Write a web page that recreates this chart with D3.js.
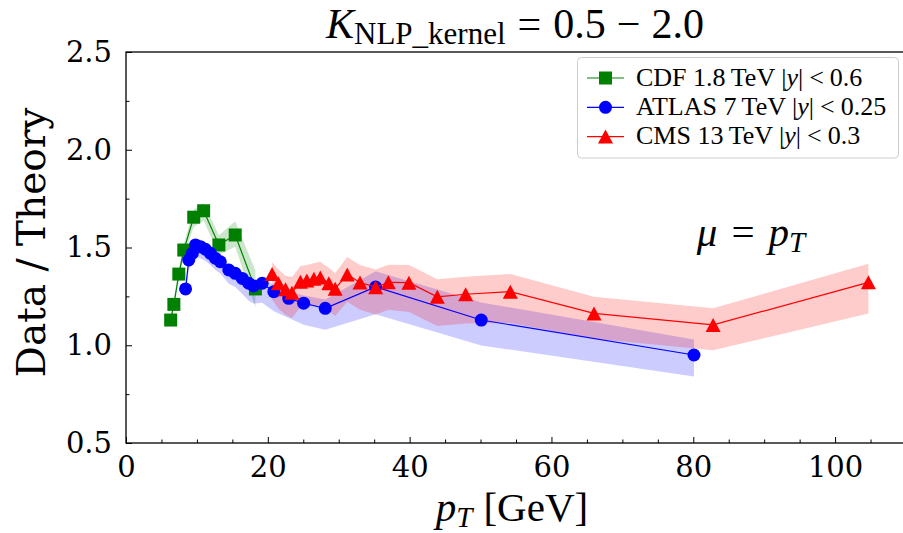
<!DOCTYPE html>
<html>
<head>
<meta charset="utf-8">
<script src="https://cdn.jsdelivr.net/npm/d3@7"></script>
<style>
  body { margin: 0; background: #fff; }
  svg { display: block; }
  .tick text { font-family: 'DejaVu Serif', serif; }
</style>
</head>
<body>
<div id="chart"></div>
<script>
// data (pT in GeV, ratio data / theory)
var cdfPt = [6.3, 6.75, 7.45, 8.15, 9.55, 10.95, 13.1, 15.4, 18.25]
var cdfRatio = [1.129, 1.209, 1.364, 1.487, 1.655, 1.688, 1.513, 1.564, 1.288]
var cdfUp = [0.02, 0.02, 0.03, 0.03, 0.04, 0.04, 0.05, 0.07, 0.095]
var cdfDn = [0.02, 0.02, 0.03, 0.03, 0.05, 0.05, 0.05, 0.06, 0.095]

var atlasPt = [8.4, 8.85, 9.35, 9.8, 10.5, 11.2, 11.9, 12.6, 13.3, 14.5, 15.4, 16.4, 17.3, 18.0, 19.2, 20.85, 22.95, 25.05, 28.1, 35.2, 50.1, 80.1]
var atlasRatio = [1.288, 1.436, 1.47, 1.513, 1.504, 1.491, 1.47, 1.445, 1.427, 1.385, 1.368, 1.342, 1.317, 1.303, 1.317, 1.274, 1.24, 1.215, 1.189, 1.298, 1.129, 0.95]
var atlasUp = [0.02, 0.02, 0.02, 0.02, 0.02, 0.02, 0.02, 0.02, 0.02, 0.025, 0.025, 0.025, 0.03, 0.03, 0.03, 0.035, 0.035, 0.04, 0.045, 0.08, 0.09, 0.08]
var atlasDn = [0.04, 0.05, 0.05, 0.06, 0.06, 0.06, 0.06, 0.06, 0.06, 0.07, 0.07, 0.08, 0.09, 0.09, 0.1, 0.1, 0.1, 0.11, 0.11, 0.14, 0.13, 0.11]

var cmsPt = [20.6, 21.5, 22.5, 23.4, 24.6, 25.5, 26.5, 27.4, 28.6, 29.5, 31.2, 33.0, 35.2, 37.0, 39.9, 43.9, 47.9, 54.2, 66.0, 82.8, 104.7]
var cmsRatio = [1.364, 1.317, 1.286, 1.269, 1.325, 1.331, 1.34, 1.347, 1.317, 1.289, 1.362, 1.321, 1.297, 1.322, 1.32, 1.248, 1.261, 1.274, 1.163, 1.104, 1.322]
var cmsUp = [0.06, 0.07, 0.07, 0.08, 0.08, 0.08, 0.08, 0.08, 0.08, 0.08, 0.09, 0.09, 0.09, 0.09, 0.09, 0.09, 0.09, 0.09, 0.085, 0.085, 0.095]
var cmsDn = [0.13, 0.13, 0.13, 0.13, 0.13, 0.13, 0.14, 0.14, 0.14, 0.14, 0.14, 0.14, 0.14, 0.14, 0.15, 0.15, 0.15, 0.16, 0.13, 0.13, 0.16]

var xMajorTicks = [0, 20, 40, 60, 80, 100]
var yMajorTicks = [0.5, 1.0, 1.5, 2.0, 2.5]

// layout
var chart = {}
chart.width = 903
chart.height = 533
chart.left = 126
chart.right = 906
chart.top = 52
chart.bottom = 443

function zip (xs, ys, up, dn) {
  return xs.map(function (d, i) {
    return { x: d, y: ys[i], up: up[i], dn: dn[i] }
  })
}

var series = [
  { name: 'cdf', color: '#008000', marker: 'square', data: zip(cdfPt, cdfRatio, cdfUp, cdfDn) },
  { name: 'atlas', color: '#0000ff', marker: 'circle', data: zip(atlasPt, atlasRatio, atlasUp, atlasDn) },
  { name: 'cms', color: '#ff0000', marker: 'triangle', data: zip(cmsPt, cmsRatio, cmsUp, cmsDn) }
]

function markerPath (type) {
  if (type === 'square') return 'M-6.5,-6.5H6.5V6.5H-6.5Z'
  if (type === 'triangle') return 'M0,-7L7.5,7H-7.5Z'
  return 'M6.5,0A6.5,6.5 0 1,1 -6.5,0A6.5,6.5 0 1,1 6.5,0Z'
}

function drawChart () {
  var svg = d3.select('#chart')
    .append('svg')
    .attr('width', chart.width)
    .attr('height', chart.height)

  chart.x = d3.scaleLinear().domain([0, 110]).range([chart.left, chart.right])
  chart.y = d3.scaleLinear().domain([0.5, 2.5]).range([chart.bottom, chart.top])

  var clip = svg.append('clipPath').attr('id', 'plotClip')
  clip.append('rect')
    .attr('x', chart.left)
    .attr('y', chart.top)
    .attr('width', chart.right - chart.left)
    .attr('height', chart.bottom - chart.top)

  var plot = svg.append('g').attr('clip-path', 'url(#plotClip)')

  // bands first so markers are not tinted
  var band = d3.area()
    .x(function (d) { return chart.x(d.x) })
    .y0(function (d) { return chart.y(d.y - d.dn) })
    .y1(function (d) { return chart.y(d.y + d.up) })

  series.forEach(function (s) {
    plot.append('path')
      .datum(s.data)
      .attr('d', band)
      .attr('fill', s.color)
      .attr('fill-opacity', 0.2)
  })

  var line = d3.line()
    .x(function (d) { return chart.x(d.x) })
    .y(function (d) { return chart.y(d.y) })

  series.forEach(function (s) {
    plot.append('path')
      .datum(s.data)
      .attr('d', line)
      .attr('fill', 'none')
      .attr('stroke', s.color)
      .attr('stroke-width', 1.2)
    plot.append('g')
      .selectAll('path')
      .data(s.data)
      .enter()
      .append('path')
      .attr('d', markerPath(s.marker))
      .attr('transform', function (d) {
        return 'translate(' + chart.x(d.x) + ',' + chart.y(d.y) + ')'
      })
      .attr('fill', s.color)
  })

  drawAxes(svg)
  drawLabels(svg)
  drawLegend(svg)
}

function drawAxes (svg) {
  var xMinor = d3.range(0, 111, 5).filter(function (d) { return d % 20 !== 0 })
  var yMinor = [0.75, 1.25, 1.75, 2.25]

  var xAxis = d3.axisBottom(chart.x).tickValues(xMajorTicks).tickFormat(d3.format('d'))
    .tickSizeInner(-6).tickSizeOuter(0).tickPadding(13)
  var xAxisMinor = d3.axisBottom(chart.x).tickValues(xMinor).tickFormat('')
    .tickSizeInner(-3.5).tickSizeOuter(0)
  var yAxis = d3.axisLeft(chart.y).tickValues(yMajorTicks).tickFormat(d3.format('.1f'))
    .tickSizeInner(-6).tickSizeOuter(0).tickPadding(14)
  var yAxisMinor = d3.axisLeft(chart.y).tickValues(yMinor).tickFormat('')
    .tickSizeInner(-3.5).tickSizeOuter(0)

  // minor and major ticks need their own groups, else the second call replaces the first
  svg.append('g').attr('transform', 'translate(0,' + chart.bottom + ')').call(xAxisMinor)
  svg.append('g').attr('transform', 'translate(0,' + chart.bottom + ')').call(xAxis)
  svg.append('g').attr('transform', 'translate(' + chart.left + ',0)').call(yAxisMinor)
  svg.append('g').attr('transform', 'translate(' + chart.left + ',0)').call(yAxis)

  svg.selectAll('.domain').remove()
  svg.selectAll('.tick line').attr('stroke', '#000').attr('stroke-width', 1)
  svg.selectAll('.tick text')
    .attr('font-size', 29)
    .attr('fill', '#000')

  // spines (right one falls outside the cropped figure)
  svg.append('rect')
    .attr('x', chart.left)
    .attr('y', chart.top)
    .attr('width', chart.right - chart.left)
    .attr('height', chart.bottom - chart.top)
    .attr('fill', 'none')
    .attr('stroke', '#000')
    .attr('stroke-width', 1.3)
}

function drawLabels (svg) {
  var mathFont = "'Liberation Serif', 'Times New Roman', serif"

  // title
  var title = svg.append('text')
    .attr('x', 515)
    .attr('y', 38)
    .attr('text-anchor', 'middle')
    .attr('font-family', mathFont)
    .attr('font-size', 42)
  title.append('tspan').attr('font-style', 'italic').text('K')
  title.append('tspan').attr('font-size', 31).attr('dy', 6).text('NLP_kernel')
  title.append('tspan').attr('dy', -6).attr('dx', 12).text('=')
  title.append('tspan').attr('dx', 12).text('0.5')
  title.append('tspan').attr('dx', 11).text('\u2212')
  title.append('tspan').attr('dx', 11).text('2.0')

  // y label
  svg.append('text')
    .attr('transform', 'translate(45,' + ((chart.top + chart.bottom) / 2 - 5) + ') rotate(-90)')
    .attr('text-anchor', 'middle')
    .style('font-family', "'DejaVu Serif', serif")
    .attr('font-size', 39)
    .text('Data / Theory')

  // x label
  var xl = svg.append('text')
    .attr('x', 512)
    .attr('y', 521)
    .attr('text-anchor', 'middle')
    .attr('font-family', mathFont)
    .attr('font-size', 41)
  xl.append('tspan').attr('font-style', 'italic').text('p')
  xl.append('tspan').attr('font-style', 'italic').attr('font-size', 29).attr('dy', 6).text('T')
  xl.append('tspan').attr('dy', -6).attr('dx', 11).text('[GeV]')

  // scale choice annotation
  var mu = svg.append('text')
    .attr('x', chart.x(80.5))
    .attr('y', chart.y(1.51))
    .attr('font-family', mathFont)
    .attr('font-size', 41)
  mu.append('tspan').attr('font-style', 'italic').text('\u03bc')
  mu.append('tspan').attr('dx', 14).text('=')
  mu.append('tspan').attr('dx', 14).attr('font-style', 'italic').text('p')
  mu.append('tspan').attr('font-style', 'italic').attr('font-size', 29).attr('dy', 6).text('T')
}

function drawLegend (svg) {
  var mathFont = "'Liberation Serif', 'Times New Roman', serif"
  var entries = [
    { s: series[0], exp: 'CDF', energy: '1.8', cut: '0.6' },
    { s: series[1], exp: 'ATLAS', energy: '7', cut: '0.25' },
    { s: series[2], exp: 'CMS', energy: '13', cut: '0.3' }
  ]

  var g = svg.append('g')
  g.append('rect')
    .attr('x', 577.5)
    .attr('y', 57.5)
    .attr('width', 321)
    .attr('height', 100.5)
    .attr('rx', 4)
    .attr('fill', '#fff')
    .attr('fill-opacity', 0.8)
    .attr('stroke', '#cccccc')
    .attr('stroke-width', 1)

  entries.forEach(function (e, i) {
    var cy = 78 + i * 29.3
    g.append('line')
      .attr('x1', 587).attr('x2', 624)
      .attr('y1', cy).attr('y2', cy)
      .attr('stroke', e.s.color)
      .attr('stroke-width', 1.2)
    g.append('path')
      .attr('d', markerPath(e.s.marker))
      .attr('transform', 'translate(605.5,' + cy + ')')
      .attr('fill', e.s.color)
    var t = g.append('text')
      .attr('x', 636)
      .attr('y', cy + 7.5)
      .attr('font-family', mathFont)
      .attr('font-size', 26)
    t.append('tspan').text(e.exp + ' ' + e.energy + '\u2009TeV |')
    t.append('tspan').attr('font-style', 'italic').text('y')
    t.append('tspan').text('|')
    t.append('tspan').attr('dx', 6).text('<')
    t.append('tspan').attr('dx', 6).text(e.cut)
  })
}

drawChart()
</script>
</body>
</html>
